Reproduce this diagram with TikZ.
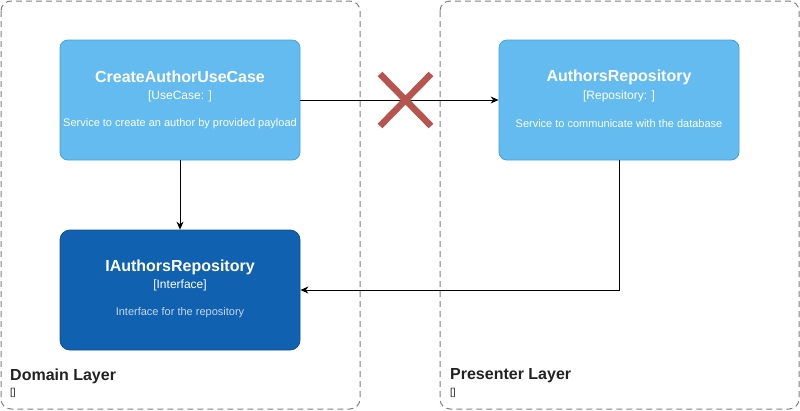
\documentclass[tikz,border=0pt]{standalone}
\usepackage{fontspec}
\setmainfont{Liberation Sans}
\usetikzlibrary{arrows.meta}
\definecolor{lightblue}{HTML}{63BBF0}
\definecolor{lightborder}{HTML}{4A9FD8}
\definecolor{darkblue}{HTML}{1061B0}
\definecolor{darkborder}{HTML}{0D4F8F}
\definecolor{descdark}{HTML}{C8D6EA}
\definecolor{boundgray}{HTML}{808080}
\definecolor{crossred}{HTML}{B85450}
\definecolor{labeltext}{HTML}{222222}
\tikzset{
  boundary/.style={draw=boundgray, dashed, dash pattern=on 6pt off 4pt, line width=1pt, rounded corners=10pt},
  lightbox/.style={draw=lightborder, fill=lightblue, line width=0.8pt, rounded corners=8pt, minimum width=240pt, minimum height=120pt, inner sep=0pt},
  darkbox/.style={draw=darkborder, fill=darkblue, line width=0.8pt, rounded corners=10pt, minimum width=240pt, minimum height=120pt, inner sep=0pt},
  titletext/.style={text=white, font=\fontsize{16}{18}\selectfont\bfseries},
  typetext/.style={text=white, font=\fontsize{12}{14}\selectfont},
  desctext/.style={text=white, font=\fontsize{11}{13}\selectfont},
  layertitle/.style={text=labeltext, anchor=west, inner sep=0pt, font=\fontsize{16}{18}\selectfont\bfseries},
  layersub/.style={text=labeltext, anchor=west, inner sep=0pt, font=\fontsize{10}{12}\selectfont},
  conn/.style={draw=black, line width=1pt, -{Stealth[length=8pt,width=7pt]}},
  crossline/.style={draw=crossred, line width=6.5pt}
}
\begin{document}
\begin{tikzpicture}[x=1pt,y=-1pt]
\useasboundingbox (0,0) rectangle (800,410);
% boundaries
\draw[boundary] (1,1) rectangle (360,409);
\draw[boundary] (440,1) rectangle (799,409);
\node[layertitle] (domainlbl) at (10,376) {Domain Layer};
\node[layersub] (domainsub) at (10,393) {[]};
\node[layertitle] (presenterlbl) at (450,376) {Presenter Layer};
\node[layersub] (presentersub) at (450,393) {[]};
% boxes
\node[lightbox] (uc) at (180,100) {};
\node[titletext] (uct) at (180,77) {CreateAuthorUseCase};
\node[typetext] (ucty) at (180,96) {[UseCase: ]};
\node[desctext] (ucd) at (180,124) {Service to create an author by provided payload};
\node[lightbox] (repo) at (619,100) {};
\node[titletext] (repot) at (619,77) {AuthorsRepository};
\node[typetext] (repoty) at (619,96) {[Repository: ]};
\node[desctext] (repod) at (619,124) {Service to communicate with the database};
\node[darkbox] (irepo) at (180,290) {};
\node[titletext] (irepot) at (180,267) {IAuthorsRepository};
\node[typetext] (irepoty) at (180,285) {[Interface]};
\node[desctext, text=descdark] (irepod) at (180,313) {Interface for the repository};
% connectors
\draw[conn] (uc.east) -- (repo.west);
\draw[conn] (uc.south) -- (irepo.north);
\draw[conn] (repo.south) |- (irepo.east);
% red cross
\coordinate (xa) at (380,74);
\coordinate (xb) at (431,126);
\coordinate (xc) at (380,126);
\coordinate (xd) at (431,74);
\draw[crossline] (xa) -- (xb);
\draw[crossline] (xc) -- (xd);
\end{tikzpicture}
\end{document}
